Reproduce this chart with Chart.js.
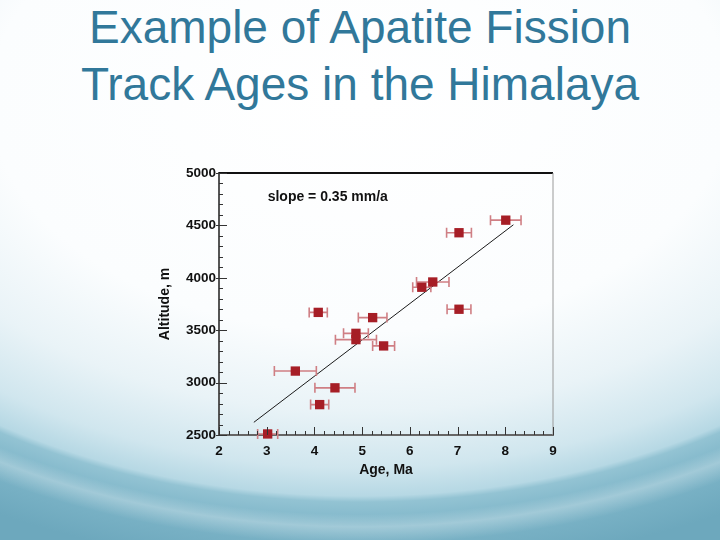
<!DOCTYPE html>
<html>
<head>
<meta charset="utf-8">
<script src="https://cdn.jsdelivr.net/npm/chart.js@4/dist/chart.umd.min.js"></script>
<style>
  html, body { margin: 0; padding: 0; }
  body {
    width: 720px; height: 540px; overflow: hidden; position: relative;
    background:
      radial-gradient(ellipse 660px 420px at 360px 90px, rgba(255,255,255,0) 0%, rgba(255,255,255,0) 101%, rgba(255,255,255,0.28) 104%, rgba(255,255,255,0) 108%),
      radial-gradient(ellipse 637px 400px at 360px 100px, #ffffff 0%, #fbfdfe 58%, #e9f3f7 78%, #d0e6ee 92%, #b6d8e4 99%, #93c3d3 100.5%, #7fb6c9 106%, #6da8bd 118%);
    font-family: "Liberation Sans", Arial, sans-serif;
  }
  #title {
    position: absolute; left: 0; top: -1px; width: 720px; text-align: center;
    font-size: 46px; line-height: 57px; color: #31789a;
  }
  #wrap { position: absolute; left: 0; top: 0; width: 720px; height: 540px; }
</style>
</head>
<body>
<div id="title">Example of Apatite Fission<br>Track Ages in the Himalaya</div>
<div id="wrap"><canvas id="c"></canvas></div>
<script>
// ---- data ----
const ages      = [3.02, 3.60, 4.08, 4.11, 4.43, 4.87, 4.87, 5.22, 5.45, 6.25, 6.48, 7.03, 7.03, 8.01];
const altitudes = [2510, 3110, 3670, 2790, 2950, 3470, 3410, 3620, 3350, 3910, 3960, 3700, 4430, 4550];
const ageErrors = [0.21, 0.44, 0.19, 0.19, 0.42, 0.26, 0.43, 0.30, 0.23, 0.19, 0.34, 0.25, 0.26, 0.32];
const fitAges      = [2.73, 8.17];
const fitAltitudes = [2621, 4506];
const xTicks = [2, 3, 4, 5, 6, 7, 8, 9];
const yTicks = [2500, 3000, 3500, 4000, 4500, 5000];
const slopeLabel = "slope = 0.35 mm/a";
const slopeLabelAt = {x: 3.02, y: 4765};

Chart.defaults.font.family = '"Liberation Sans", Arial, sans-serif';

const points = ages.map((a, i) => ({x: a, y: altitudes[i]}));
const fitLine = fitAges.map((a, i) => ({x: a, y: fitAltitudes[i]}));

const errorBars = {
  id: 'errorBars',
  beforeDatasetDraw(chart, args) {
    if (args.index !== 0) return;
    const {ctx, scales: {x, y}} = chart;
    ctx.save();
    ctx.strokeStyle = '#cf7f84';
    ctx.lineWidth = 1.6;
    ages.forEach((a, i) => {
      const py = y.getPixelForValue(altitudes[i]);
      const x1 = x.getPixelForValue(a - ageErrors[i]);
      const x2 = x.getPixelForValue(a + ageErrors[i]);
      ctx.beginPath();
      ctx.moveTo(x1, py); ctx.lineTo(x2, py);
      ctx.moveTo(x1, py - 5); ctx.lineTo(x1, py + 5);
      ctx.moveTo(x2, py - 5); ctx.lineTo(x2, py + 5);
      ctx.stroke();
    });
    ctx.restore();
  }
};

const frame = {
  id: 'frame',
  afterDraw(chart) {
    const {ctx, chartArea: ca, scales: {x, y}} = chart;
    ctx.save();
    ctx.strokeStyle = '#111'; ctx.lineWidth = 2;
    ctx.beginPath(); ctx.moveTo(ca.left, ca.top); ctx.lineTo(ca.right, ca.top); ctx.stroke();
    ctx.strokeStyle = '#9a9a9a'; ctx.lineWidth = 1;
    ctx.beginPath(); ctx.moveTo(ca.right, ca.top); ctx.lineTo(ca.right, ca.bottom); ctx.stroke();
    ctx.strokeStyle = '#333'; ctx.lineWidth = 1;
    for (let v = x.min; v <= x.max + 1e-9; v += 0.2) {
      const px = Math.round(x.getPixelForValue(v)) + 0.5;
      const major = Math.abs(v - Math.round(v)) < 1e-6;
      ctx.beginPath();
      ctx.moveTo(px, ca.bottom); ctx.lineTo(px, ca.bottom - (major ? 8 : 4));
      ctx.stroke();
    }
    for (let v = y.min; v <= y.max + 1e-6; v += 100) {
      const py = Math.round(y.getPixelForValue(v)) + 0.5;
      const major = Math.abs(v % 500) < 1e-6;
      ctx.beginPath();
      ctx.moveTo(ca.left - (major ? 3 : 0), py); ctx.lineTo(ca.left + (major ? 8 : 4), py);
      ctx.stroke();
    }
    ctx.fillStyle = '#111';
    ctx.font = 'bold 14px "Liberation Sans", Arial, sans-serif';
    ctx.textBaseline = 'middle';
    ctx.textAlign = 'left';
    ctx.fillText(slopeLabel, x.getPixelForValue(slopeLabelAt.x), y.getPixelForValue(slopeLabelAt.y));
    ctx.restore();
  }
};

new Chart(document.getElementById('c'), {
  type: 'scatter',
  data: {
    datasets: [
      {
        label: 'Apatite fission track ages',
        data: points,
        pointStyle: 'rect',
        pointRadius: 6.6,
        backgroundColor: '#a61e26',
        borderColor: '#a61e26',
        borderWidth: 0,
        clip: false,
        order: 1
      },
      {
        label: 'fit',
        type: 'line',
        data: fitLine,
        borderColor: '#1a1a1a',
        borderWidth: 1,
        pointRadius: 0,
        fill: false,
        order: 2
      }
    ]
  },
  options: {
    responsive: true,
    maintainAspectRatio: false,
    animation: false,
    layout: { padding: { left: 150, right: 167, top: 173, bottom: 55 } },
    plugins: { legend: { display: false }, tooltip: { enabled: false }, title: { display: false } },
    scales: {
      x: {
        type: 'linear', min: 2, max: 9,
        afterFit(s) { s.height = 50; },
        afterBuildTicks(s) { s.ticks = xTicks.map(v => ({value: v})); },
        grid: { display: false, drawTicks: false },
        border: { display: true, color: '#666', width: 2 },
        ticks: { color: '#111', font: { size: 13.5, weight: 'bold' }, padding: 8, maxRotation: 0, callback: v => String(v) },
        title: { display: true, text: 'Age, Ma', color: '#111', font: { size: 14, weight: 'bold' }, padding: { top: 0, bottom: 6.6 } }
      },
      y: {
        type: 'linear', min: 2500, max: 5000,
        afterFit(s) { s.width = 69; },
        afterBuildTicks(s) { s.ticks = yTicks.map(v => ({value: v})); },
        grid: { display: false, drawTicks: false },
        border: { display: true, color: '#555', width: 2 },
        ticks: { color: '#111', font: { size: 13.5, weight: 'bold' }, padding: 3, callback: v => String(v) },
        title: { display: true, text: 'Altitude, m', color: '#111', font: { size: 14, weight: 'bold' }, padding: { top: 7, bottom: 0 } }
      }
    }
  },
  plugins: [errorBars, frame]
});
</script>
</body>
</html>
